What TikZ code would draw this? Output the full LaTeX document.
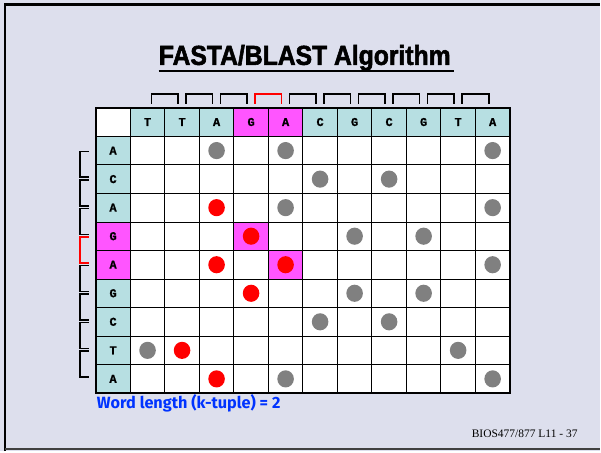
\documentclass[tikz,border=0pt]{standalone}
\usepackage{fontspec}
\setmainfont{Liberation Serif}
\newfontfamily\titlefont[FakeStretch=0.9, BoldFont={Liberation Sans Bold},
  BoldFeatures={FakeStretch=0.9, FakeBold=2}]{Liberation Sans}
\newfontfamily\basefont[BoldFeatures={FakeBold=1}]{Liberation Mono}
\newfontfamily\notefont{Fira Sans}
\usepackage{tikz}
\usetikzlibrary{
  calc
}
\definecolor{slidebg}{RGB}{221,223,237}
\definecolor{tealcell}{RGB}{183,223,226}
\definecolor{pinkcell}{RGB}{255,85,255}
\definecolor{dotgray}{RGB}{128,128,128}
\definecolor{noteblue}{RGB}{0,51,255}

\begin{document}
\begin{tikzpicture}[x=1pt, y=-1pt,
    cellbox/.style={draw=black, line width=0.8pt, fill=white, minimum width=34.58pt,
      minimum height=28.6pt, inner sep=0pt, outer sep=0pt},
    basebox/.style={cellbox, font=\basefont\bfseries\fontsize{12}{12}\selectfont},
    bracket/.style={line width=1.7pt, line cap=rect}]
  % slide
  \fill[slidebg] (0,0) rectangle (601,452);
  \draw[line width=2.6pt] (5,452) -- (5,4.6) -- (601,4.6);
  \draw[line width=1.6pt, black!75] (5,450.2) -- (601,450.2);
  \node[anchor=base west, inner sep=0pt, font=\titlefont\bfseries\fontsize{27.5}{27.5}\selectfont] (title) at (159,65) {FASTA/BLAST Algorithm};
  \draw[line width=2pt] ($(title.base west)+(0,6.5)$) -- ++(296,0);

  % sequence along the top and down the side
  \node[basebox] (corner) at (113.3,122.3) {};
  \foreach \b/\col [count=\c] in {T/tealcell, T/tealcell, A/tealcell, G/pinkcell, A/pinkcell,
      C/tealcell, G/tealcell, C/tealcell, G/tealcell, T/tealcell, A/tealcell}
    \node[basebox, fill=\col] (top-\c) at ({96+(\c+0.5)*34.583},122.3) {\b};
  \foreach \b/\col [count=\r] in {A/tealcell, C/tealcell, A/tealcell, G/pinkcell, A/pinkcell,
      G/tealcell, C/tealcell, T/tealcell, A/tealcell}
    \node[basebox, fill=\col] (side-\r) at (113.3,{108+(\r+0.5)*28.6}) {\b};

  % dot plot cells
  \foreach \r in {1,...,9}
    \foreach \c in {1,...,11}
      \node[cellbox] (m-\r-\c) at (top-\c |- side-\r) {};
  \draw[cellbox, fill=pinkcell] (m-4-4.south west) rectangle (m-4-4.north east);
  \draw[cellbox, fill=pinkcell] (m-5-5.south west) rectangle (m-5-5.north east);
  \draw[line width=1.3pt] (corner.south west) -- (top-11.south east);
  \draw[line width=1.3pt] (corner.north east) -- (side-9.south east);
  \draw[line width=2pt] (corner.north west) rectangle (m-9-11.south east);

  % word hits (red = shared 2-tuple)
  \foreach \r/\c/\col in {1/3/dotgray, 1/5/dotgray, 1/11/dotgray, 2/6/dotgray, 2/8/dotgray,
      3/3/red, 3/5/dotgray, 3/11/dotgray, 4/4/red, 4/7/dotgray, 4/9/dotgray,
      5/3/red, 5/5/red, 5/11/dotgray, 6/4/red, 6/7/dotgray, 6/9/dotgray,
      7/6/dotgray, 7/8/dotgray, 8/1/dotgray, 8/2/red, 8/10/dotgray,
      9/3/red, 9/5/dotgray, 9/11/dotgray}
    \fill[\col] (m-\r-\c) ellipse [x radius=8.3, y radius=8.6];

  % 2-letter words
  \foreach \i in {1,2,3,5,6,7,8,9,10} {
    \pgfmathtruncatemacro\j{\i+1}
    \draw[bracket] ($(top-\i)+(4,-19.3)$) -- ++(0,-9) -| ($(top-\j)+(-4,-19.3)$);
  }
  \draw[bracket, red] ($(top-4)+(4,-19.3)$) -- ++(0,-9) -| ($(top-5)+(-4,-19.3)$);
  \foreach \i in {1,2,3,5,6,7,8} {
    \pgfmathtruncatemacro\j{\i+1}
    \draw[bracket] ($(side-\i)+(-24.8,0.8)$) -- ++(-8,0) |- ($(side-\j)+(-24.8,-1.8)$);
  }
  \draw[bracket, red] ($(side-4)+(-24.8,0.8)$) -- ++(-8,0) |- ($(side-5)+(-24.8,-1.8)$);

  \node[anchor=base west, inner sep=0pt, text=noteblue, font=\notefont\bfseries\fontsize{16.3}{16.3}\selectfont] (wordlen) at (97,409) {Word length (k-tuple) = 2};
  \node[anchor=base east, inner sep=0pt, font=\fontsize{11.5}{11.5}\selectfont] (slideno) at (579,438) {BIOS477/877 L11 - 37};
\end{tikzpicture}
\end{document}
